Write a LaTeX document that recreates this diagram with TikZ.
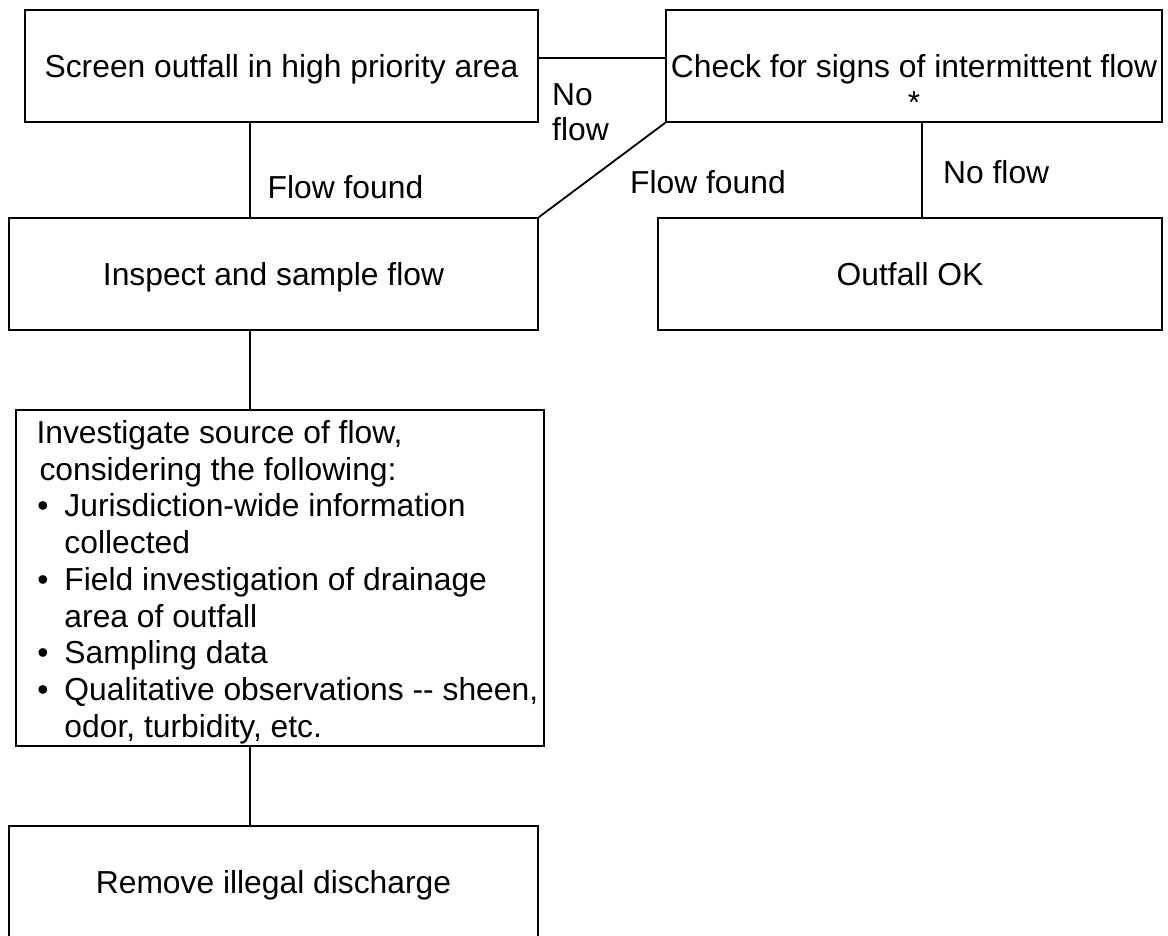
\documentclass[tikz,border=0pt]{standalone}
\usepackage{fontspec}
\setmainfont{Liberation Sans}
\usetikzlibrary{calc}
\tikzset{
  txt/.style={font=\fontsize{31.8}{36.7}\selectfont, inner sep=0pt},
  box/.style={txt, draw, line width=1.8pt, inner sep=0pt, minimum height=112pt, text height=23pt, text depth=0pt},
  wire/.style={line width=1.8pt},
  lbl/.style={txt, anchor=base west},
}
\begin{document}
\begin{tikzpicture}[x=1pt,y=-1pt]
\path[use as bounding box] (0,0) rectangle (1168,935);
\clip (0,0) rectangle (1168,935);
\fill[white] (0,0) rectangle (1168,935);

\node[box, minimum width=513pt] (b1) at (281.5,66) {Screen outfall in high priority area};
\node[box, minimum width=496pt] (b2) at (914,66) {Check for signs of intermittent flow};
\node[txt, anchor=base] (star) at ($(b2.center)+(0,47.5)$) {*};
\node[box, minimum width=529pt] (b3) at (273.5,274) {Inspect and sample flow};
\node[box, minimum width=504pt] (b4) at (910,274) {Outfall OK};
\node[txt, draw, line width=1.8pt, minimum width=528pt, minimum height=336pt] (b5) at (280,578)
  {\raisebox{-5pt}[\height][\depth]{\makebox[487pt][l]{\begin{tabular}{@{}l@{}}
  Investigate source of flow,\\
  \hspace*{3pt}considering the following:\\
  \makebox[28pt][l]{\hspace{1pt}•}Jurisdiction-wide information\\
  \hspace*{28pt}collected\\
  \makebox[28pt][l]{\hspace{1pt}•}Field investigation of drainage\\
  \hspace*{28pt}area of outfall\\
  \makebox[28pt][l]{\hspace{1pt}•}Sampling data\\
  \makebox[28pt][l]{\hspace{1pt}•}Qualitative observations -{}- sheen,\\
  \hspace*{28pt}odor, turbidity, etc.
  \end{tabular}}}};
\node[box, minimum width=529pt] (b6) at (273.5,882) {Remove illegal discharge};

\node[txt, anchor=north west, align=left, font=\fontsize{31.8}{35}\selectfont] (nf1) at (552,83.7) {No\\flow};
\node[lbl] (ff1) at (267.5,198.5) {Flow found};
\node[lbl] (ff2) at (630,193.5) {Flow found};
\node[lbl] (nf2) at (943,183.5) {No flow};

\coordinate (sp1) at (250,0);
\coordinate (sp2) at (922,0);
\coordinate (c12) at ($(b1.north east)!0.4286!(b1.south east)$);
\draw[wire] (c12) -- (c12 -| b2.west);
\draw[wire] (b1.south -| sp1) -- (b3.north -| sp1);
\draw[wire] (b2.south west) -- (b3.north east);
\draw[wire] (b2.south -| sp2) -- (b4.north -| sp2);
\draw[wire] (b3.south -| sp1) -- (b5.north -| sp1);
\draw[wire] (b5.south -| sp1) -- (b6.north -| sp1);
\end{tikzpicture}
\end{document}
